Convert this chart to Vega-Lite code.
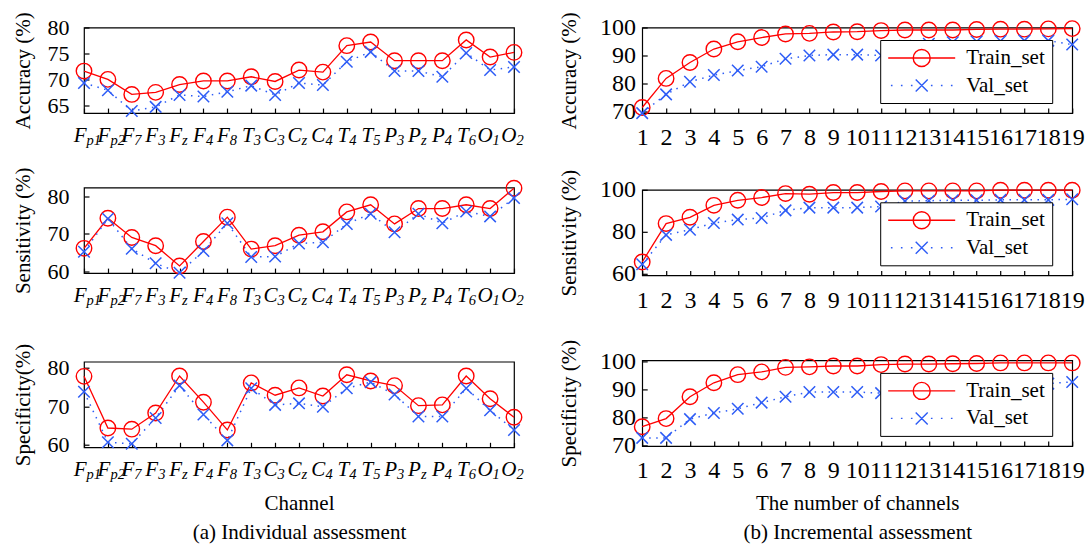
{
  "$schema": "https://vega.github.io/schema/vega-lite/v6.json",
  "padding": {"left": 11, "top": 10.5, "right": 1, "bottom": 1},
  "config": {
    "font": "Liberation Serif",
    "view": {"stroke": "#000", "strokeWidth": 1.2},
    "axis": {"labelFont": "Liberation Serif", "titleFont": "Liberation Serif", "labelFontSize": 21, "titleFontSize": 21, "titleFontWeight": "normal", "labelColor": "#000", "titleColor": "#000", "tickColor": "#000", "tickWidth": 1.2, "tickSize": -5, "grid": false, "domain": false, "labelAngle": 0, "labelOverlap": false},
    "legend": {"labelFont": "Liberation Serif", "labelFontSize": 21, "labelColor": "#000"}
  },
  "datasets": {
    "ind": [
      {"m":"acc","c":"Fp1","s":"Train_set","v":71.6},{"m":"acc","c":"Fp1","s":"Val_set","v":69.3},
      {"m":"acc","c":"Fp2","s":"Train_set","v":70.0},{"m":"acc","c":"Fp2","s":"Val_set","v":67.9},
      {"m":"acc","c":"F7","s":"Train_set","v":67.1},{"m":"acc","c":"F7","s":"Val_set","v":63.9},
      {"m":"acc","c":"F3","s":"Train_set","v":67.5},{"m":"acc","c":"F3","s":"Val_set","v":64.7},
      {"m":"acc","c":"Fz","s":"Train_set","v":69.0},{"m":"acc","c":"Fz","s":"Val_set","v":67.0},
      {"m":"acc","c":"F4","s":"Train_set","v":69.7},{"m":"acc","c":"F4","s":"Val_set","v":66.7},
      {"m":"acc","c":"F8","s":"Train_set","v":69.7},{"m":"acc","c":"F8","s":"Val_set","v":67.6},
      {"m":"acc","c":"T3","s":"Train_set","v":70.5},{"m":"acc","c":"T3","s":"Val_set","v":68.8},
      {"m":"acc","c":"C3","s":"Train_set","v":69.6},{"m":"acc","c":"C3","s":"Val_set","v":67.0},
      {"m":"acc","c":"Cz","s":"Train_set","v":71.8},{"m":"acc","c":"Cz","s":"Val_set","v":69.3},
      {"m":"acc","c":"C4","s":"Train_set","v":71.4},{"m":"acc","c":"C4","s":"Val_set","v":68.9},
      {"m":"acc","c":"T4","s":"Train_set","v":76.5},{"m":"acc","c":"T4","s":"Val_set","v":73.4},
      {"m":"acc","c":"T5","s":"Train_set","v":77.2},{"m":"acc","c":"T5","s":"Val_set","v":75.3},
      {"m":"acc","c":"P3","s":"Train_set","v":73.6},{"m":"acc","c":"P3","s":"Val_set","v":71.6},
      {"m":"acc","c":"Pz","s":"Train_set","v":73.6},{"m":"acc","c":"Pz","s":"Val_set","v":71.6},
      {"m":"acc","c":"P4","s":"Train_set","v":73.6},{"m":"acc","c":"P4","s":"Val_set","v":70.5},
      {"m":"acc","c":"T6","s":"Train_set","v":77.6},{"m":"acc","c":"T6","s":"Val_set","v":75.1},
      {"m":"acc","c":"O1","s":"Train_set","v":74.3},{"m":"acc","c":"O1","s":"Val_set","v":71.8},
      {"m":"acc","c":"O2","s":"Train_set","v":75.2},{"m":"acc","c":"O2","s":"Val_set","v":72.4},
      {"m":"sen","c":"Fp1","s":"Train_set","v":66.1},{"m":"sen","c":"Fp1","s":"Val_set","v":65.2},
      {"m":"sen","c":"Fp2","s":"Train_set","v":74.1},{"m":"sen","c":"Fp2","s":"Val_set","v":74.0},
      {"m":"sen","c":"F7","s":"Train_set","v":69.0},{"m":"sen","c":"F7","s":"Val_set","v":66.0},
      {"m":"sen","c":"F3","s":"Train_set","v":66.8},{"m":"sen","c":"F3","s":"Val_set","v":62.1},
      {"m":"sen","c":"Fz","s":"Train_set","v":61.4},{"m":"sen","c":"Fz","s":"Val_set","v":59.6},
      {"m":"sen","c":"F4","s":"Train_set","v":67.9},{"m":"sen","c":"F4","s":"Val_set","v":65.4},
      {"m":"sen","c":"F8","s":"Train_set","v":74.4},{"m":"sen","c":"F8","s":"Val_set","v":72.8},
      {"m":"sen","c":"T3","s":"Train_set","v":65.9},{"m":"sen","c":"T3","s":"Val_set","v":63.8},
      {"m":"sen","c":"C3","s":"Train_set","v":66.8},{"m":"sen","c":"C3","s":"Val_set","v":63.9},
      {"m":"sen","c":"Cz","s":"Train_set","v":69.6},{"m":"sen","c":"Cz","s":"Val_set","v":67.4},
      {"m":"sen","c":"C4","s":"Train_set","v":70.5},{"m":"sen","c":"C4","s":"Val_set","v":67.7},
      {"m":"sen","c":"T4","s":"Train_set","v":75.8},{"m":"sen","c":"T4","s":"Val_set","v":72.6},
      {"m":"sen","c":"T5","s":"Train_set","v":77.7},{"m":"sen","c":"T5","s":"Val_set","v":75.3},
      {"m":"sen","c":"P3","s":"Train_set","v":72.6},{"m":"sen","c":"P3","s":"Val_set","v":70.4},
      {"m":"sen","c":"Pz","s":"Train_set","v":76.7},{"m":"sen","c":"Pz","s":"Val_set","v":75.3},
      {"m":"sen","c":"P4","s":"Train_set","v":76.7},{"m":"sen","c":"P4","s":"Val_set","v":72.8},
      {"m":"sen","c":"T6","s":"Train_set","v":77.7},{"m":"sen","c":"T6","s":"Val_set","v":75.9},
      {"m":"sen","c":"O1","s":"Train_set","v":76.7},{"m":"sen","c":"O1","s":"Val_set","v":74.6},
      {"m":"sen","c":"O2","s":"Train_set","v":82.1},{"m":"sen","c":"O2","s":"Val_set","v":79.5},
      {"m":"spe","c":"Fp1","s":"Train_set","v":77.8},{"m":"spe","c":"Fp1","s":"Val_set","v":73.8},
      {"m":"spe","c":"Fp2","s":"Train_set","v":64.4},{"m":"spe","c":"Fp2","s":"Val_set","v":60.7},
      {"m":"spe","c":"F7","s":"Train_set","v":64.1},{"m":"spe","c":"F7","s":"Val_set","v":60.3},
      {"m":"spe","c":"F3","s":"Train_set","v":68.3},{"m":"spe","c":"F3","s":"Val_set","v":67.0},
      {"m":"spe","c":"Fz","s":"Train_set","v":77.9},{"m":"spe","c":"Fz","s":"Val_set","v":75.4},
      {"m":"spe","c":"F4","s":"Train_set","v":71.1},{"m":"spe","c":"F4","s":"Val_set","v":67.9},
      {"m":"spe","c":"F8","s":"Train_set","v":63.9},{"m":"spe","c":"F8","s":"Val_set","v":61.2},
      {"m":"spe","c":"T3","s":"Train_set","v":76.1},{"m":"spe","c":"T3","s":"Val_set","v":74.7},
      {"m":"spe","c":"C3","s":"Train_set","v":72.9},{"m":"spe","c":"C3","s":"Val_set","v":70.4},
      {"m":"spe","c":"Cz","s":"Train_set","v":74.8},{"m":"spe","c":"Cz","s":"Val_set","v":70.8},
      {"m":"spe","c":"C4","s":"Train_set","v":72.7},{"m":"spe","c":"C4","s":"Val_set","v":69.9},
      {"m":"spe","c":"T4","s":"Train_set","v":78.2},{"m":"spe","c":"T4","s":"Val_set","v":74.7},
      {"m":"spe","c":"T5","s":"Train_set","v":76.6},{"m":"spe","c":"T5","s":"Val_set","v":76.3},
      {"m":"spe","c":"P3","s":"Train_set","v":75.4},{"m":"spe","c":"P3","s":"Val_set","v":73.1},
      {"m":"spe","c":"Pz","s":"Train_set","v":70.2},{"m":"spe","c":"Pz","s":"Val_set","v":67.4},
      {"m":"spe","c":"P4","s":"Train_set","v":70.4},{"m":"spe","c":"P4","s":"Val_set","v":67.4},
      {"m":"spe","c":"T6","s":"Train_set","v":77.9},{"m":"spe","c":"T6","s":"Val_set","v":74.7},
      {"m":"spe","c":"O1","s":"Train_set","v":72.0},{"m":"spe","c":"O1","s":"Val_set","v":69.0},
      {"m":"spe","c":"O2","s":"Train_set","v":67.2},{"m":"spe","c":"O2","s":"Val_set","v":63.9}
    ],
    "inc": [
      {"m":"acc","n":1,"s":"Train_set","v":71.4},{"m":"acc","n":1,"s":"Val_set","v":69.4},
      {"m":"acc","n":2,"s":"Train_set","v":81.8},{"m":"acc","n":2,"s":"Val_set","v":76.1},
      {"m":"acc","n":3,"s":"Train_set","v":87.5},{"m":"acc","n":3,"s":"Val_set","v":80.6},
      {"m":"acc","n":4,"s":"Train_set","v":92.3},{"m":"acc","n":4,"s":"Val_set","v":83.0},
      {"m":"acc","n":5,"s":"Train_set","v":94.9},{"m":"acc","n":5,"s":"Val_set","v":84.6},
      {"m":"acc","n":6,"s":"Train_set","v":96.4},{"m":"acc","n":6,"s":"Val_set","v":86.0},
      {"m":"acc","n":7,"s":"Train_set","v":97.7},{"m":"acc","n":7,"s":"Val_set","v":88.8},
      {"m":"acc","n":8,"s":"Train_set","v":97.9},{"m":"acc","n":8,"s":"Val_set","v":90.0},
      {"m":"acc","n":9,"s":"Train_set","v":98.4},{"m":"acc","n":9,"s":"Val_set","v":90.3},
      {"m":"acc","n":10,"s":"Train_set","v":98.5},{"m":"acc","n":10,"s":"Val_set","v":90.3},
      {"m":"acc","n":11,"s":"Train_set","v":98.9},{"m":"acc","n":11,"s":"Val_set","v":90.0},
      {"m":"acc","n":12,"s":"Train_set","v":99.1},{"m":"acc","n":12,"s":"Val_set","v":93.5},
      {"m":"acc","n":13,"s":"Train_set","v":99.1},{"m":"acc","n":13,"s":"Val_set","v":94.2},
      {"m":"acc","n":14,"s":"Train_set","v":99.1},{"m":"acc","n":14,"s":"Val_set","v":94.7},
      {"m":"acc","n":15,"s":"Train_set","v":99.3},{"m":"acc","n":15,"s":"Val_set","v":95.0},
      {"m":"acc","n":16,"s":"Train_set","v":99.4},{"m":"acc","n":16,"s":"Val_set","v":95.2},
      {"m":"acc","n":17,"s":"Train_set","v":99.4},{"m":"acc","n":17,"s":"Val_set","v":95.3},
      {"m":"acc","n":18,"s":"Train_set","v":99.5},{"m":"acc","n":18,"s":"Val_set","v":95.3},
      {"m":"acc","n":19,"s":"Train_set","v":99.6},{"m":"acc","n":19,"s":"Val_set","v":93.9},
      {"m":"sen","n":1,"s":"Train_set","v":65.6},{"m":"sen","n":1,"s":"Val_set","v":64.5},
      {"m":"sen","n":2,"s":"Train_set","v":83.9},{"m":"sen","n":2,"s":"Val_set","v":78.5},
      {"m":"sen","n":3,"s":"Train_set","v":86.9},{"m":"sen","n":3,"s":"Val_set","v":81.0},
      {"m":"sen","n":4,"s":"Train_set","v":92.6},{"m":"sen","n":4,"s":"Val_set","v":84.2},
      {"m":"sen","n":5,"s":"Train_set","v":95.0},{"m":"sen","n":5,"s":"Val_set","v":85.8},
      {"m":"sen","n":6,"s":"Train_set","v":96.3},{"m":"sen","n":6,"s":"Val_set","v":86.6},
      {"m":"sen","n":7,"s":"Train_set","v":98.2},{"m":"sen","n":7,"s":"Val_set","v":90.2},
      {"m":"sen","n":8,"s":"Train_set","v":97.9},{"m":"sen","n":8,"s":"Val_set","v":91.5},
      {"m":"sen","n":9,"s":"Train_set","v":98.7},{"m":"sen","n":9,"s":"Val_set","v":91.5},
      {"m":"sen","n":10,"s":"Train_set","v":98.7},{"m":"sen","n":10,"s":"Val_set","v":91.5},
      {"m":"sen","n":11,"s":"Train_set","v":99.2},{"m":"sen","n":11,"s":"Val_set","v":92.0},
      {"m":"sen","n":12,"s":"Train_set","v":99.5},{"m":"sen","n":12,"s":"Val_set","v":94.6},
      {"m":"sen","n":13,"s":"Train_set","v":99.5},{"m":"sen","n":13,"s":"Val_set","v":94.8},
      {"m":"sen","n":14,"s":"Train_set","v":99.5},{"m":"sen","n":14,"s":"Val_set","v":95.0},
      {"m":"sen","n":15,"s":"Train_set","v":99.5},{"m":"sen","n":15,"s":"Val_set","v":95.0},
      {"m":"sen","n":16,"s":"Train_set","v":99.8},{"m":"sen","n":16,"s":"Val_set","v":95.2},
      {"m":"sen","n":17,"s":"Train_set","v":99.8},{"m":"sen","n":17,"s":"Val_set","v":95.2},
      {"m":"sen","n":18,"s":"Train_set","v":99.8},{"m":"sen","n":18,"s":"Val_set","v":95.2},
      {"m":"sen","n":19,"s":"Train_set","v":99.8},{"m":"sen","n":19,"s":"Val_set","v":95.5},
      {"m":"spe","n":1,"s":"Train_set","v":76.6},{"m":"spe","n":1,"s":"Val_set","v":72.6},
      {"m":"spe","n":2,"s":"Train_set","v":79.5},{"m":"spe","n":2,"s":"Val_set","v":72.6},
      {"m":"spe","n":3,"s":"Train_set","v":87.3},{"m":"spe","n":3,"s":"Val_set","v":79.3},
      {"m":"spe","n":4,"s":"Train_set","v":92.3},{"m":"spe","n":4,"s":"Val_set","v":81.5},
      {"m":"spe","n":5,"s":"Train_set","v":95.2},{"m":"spe","n":5,"s":"Val_set","v":83.0},
      {"m":"spe","n":6,"s":"Train_set","v":96.2},{"m":"spe","n":6,"s":"Val_set","v":85.2},
      {"m":"spe","n":7,"s":"Train_set","v":97.8},{"m":"spe","n":7,"s":"Val_set","v":87.3},
      {"m":"spe","n":8,"s":"Train_set","v":98.0},{"m":"spe","n":8,"s":"Val_set","v":89.0},
      {"m":"spe","n":9,"s":"Train_set","v":98.3},{"m":"spe","n":9,"s":"Val_set","v":89.0},
      {"m":"spe","n":10,"s":"Train_set","v":98.3},{"m":"spe","n":10,"s":"Val_set","v":89.0},
      {"m":"spe","n":11,"s":"Train_set","v":98.8},{"m":"spe","n":11,"s":"Val_set","v":88.6},
      {"m":"spe","n":12,"s":"Train_set","v":99.0},{"m":"spe","n":12,"s":"Val_set","v":89.5},
      {"m":"spe","n":13,"s":"Train_set","v":99.0},{"m":"spe","n":13,"s":"Val_set","v":90.0},
      {"m":"spe","n":14,"s":"Train_set","v":99.1},{"m":"spe","n":14,"s":"Val_set","v":90.5},
      {"m":"spe","n":15,"s":"Train_set","v":99.2},{"m":"spe","n":15,"s":"Val_set","v":91.0},
      {"m":"spe","n":16,"s":"Train_set","v":99.4},{"m":"spe","n":16,"s":"Val_set","v":91.5},
      {"m":"spe","n":17,"s":"Train_set","v":99.4},{"m":"spe","n":17,"s":"Val_set","v":91.8},
      {"m":"spe","n":18,"s":"Train_set","v":99.4},{"m":"spe","n":18,"s":"Val_set","v":92.0},
      {"m":"spe","n":19,"s":"Train_set","v":99.4},{"m":"spe","n":19,"s":"Val_set","v":92.6}
    ]
  },
  "spacing": 31.2,
  "resolve": {"scale": {"color": "independent", "shape": "independent"}, "legend": {"color": "independent", "shape": "independent"}},
  "hconcat": [
    {
      "spacing": 33.2,
      "resolve": {"scale": {"color": "independent", "shape": "independent"}, "legend": {"color": "independent", "shape": "independent"}},
      "vconcat": [
        {
          "spacing": 17,
          "resolve": {"scale": {"color": "independent", "shape": "independent"}, "legend": {"color": "independent", "shape": "independent"}},
          "vconcat": [
            {
              "width": 430, "height": 85.6,
              "data": {"name": "ind"},
              "transform": [{"filter": "datum.m === 'acc'"}],
              "encoding": {
                "y": {"field": "v", "type": "quantitative", "scale": {"domain": [63.5, 80], "nice": false, "zero": false}, "axis": {"values": [65, 70, 75, 80], "labelFontSize": 22, "labelPadding": 20, "titlePadding": 14, "title": "Accuracy (%)"}}
              },
              "layer": [
                {
                  "encoding": {"x": {"field": "c", "type": "nominal", "sort": ["Fp1","Fp2","F7","F3","Fz","F4","F8","T3","C3","Cz","C4","T4","T5","P3","Pz","P4","T6","O1","O2"], "scale": {"type": "point", "padding": 0}, "axis": {"orient": "bottom", "labelExpr": "substring(datum.label,0,1)", "labelAlign": "right", "labelOffset": 2, "labelFontStyle": "italic", "labelBaseline": "top", "labelPadding": 16.4, "title": null}}},
                  "layer": [
                    {"transform": [{"filter": "datum.s === 'Train_set'"}], "mark": {"type": "line", "color": "#ff0000", "strokeWidth": 1.3}},
                    {"transform": [{"filter": "datum.s === 'Val_set'"}], "mark": {"type": "line", "color": "#2d5cf6", "strokeWidth": 1.5, "strokeDash": [1.5, 5.5]}},
                    {"transform": [{"filter": "datum.s === 'Train_set'"}], "mark": {"type": "point", "shape": "circle", "size": 240, "filled": false, "color": "#ff0000", "strokeWidth": 1.4, "opacity": 1}}
                  ]
                },
                {
                  "transform": [{"filter": "datum.s === 'Val_set'"}],
                  "mark": {"type": "point", "shape": "M-1,-1L1,1M1,-1L-1,1", "size": 132, "filled": false, "color": "#2d5cf6", "strokeWidth": 1.5, "opacity": 1},
                  "encoding": {"x": {"field": "c", "type": "nominal", "sort": ["Fp1","Fp2","F7","F3","Fz","F4","F8","T3","C3","Cz","C4","T4","T5","P3","Pz","P4","T6","O1","O2"], "scale": {"type": "point", "padding": 0}, "axis": {"orient": "bottom", "labelExpr": "substring(datum.label,1)", "labelAlign": "left", "labelOffset": 2, "labelFontStyle": "italic", "labelFontSize": 14.5, "labelBaseline": "top", "labelPadding": 20.5, "ticks": false, "tickSize": 0, "title": null}}}
                }
              ],
              "resolve": {"axis": {"x": "independent"}}
            },
            {
              "width": 430, "height": 85.6,
              "data": {"name": "ind"},
              "transform": [{"filter": "datum.m === 'sen'"}],
              "encoding": {
                "y": {"field": "v", "type": "quantitative", "scale": {"domain": [59.5, 82.3], "nice": false, "zero": false}, "axis": {"values": [60, 70, 80], "labelFontSize": 22, "labelPadding": 20, "titlePadding": 14, "title": "Sensitivity (%)"}}
              },
              "layer": [
                {
                  "encoding": {"x": {"field": "c", "type": "nominal", "sort": ["Fp1","Fp2","F7","F3","Fz","F4","F8","T3","C3","Cz","C4","T4","T5","P3","Pz","P4","T6","O1","O2"], "scale": {"type": "point", "padding": 0}, "axis": {"orient": "bottom", "labelExpr": "substring(datum.label,0,1)", "labelAlign": "right", "labelOffset": 2, "labelFontStyle": "italic", "labelBaseline": "top", "labelPadding": 16.4, "title": null}}},
                  "layer": [
                    {"transform": [{"filter": "datum.s === 'Train_set'"}], "mark": {"type": "line", "color": "#ff0000", "strokeWidth": 1.3}},
                    {"transform": [{"filter": "datum.s === 'Val_set'"}], "mark": {"type": "line", "color": "#2d5cf6", "strokeWidth": 1.5, "strokeDash": [1.5, 5.5]}},
                    {"transform": [{"filter": "datum.s === 'Train_set'"}], "mark": {"type": "point", "shape": "circle", "size": 240, "filled": false, "color": "#ff0000", "strokeWidth": 1.4, "opacity": 1}}
                  ]
                },
                {
                  "transform": [{"filter": "datum.s === 'Val_set'"}],
                  "mark": {"type": "point", "shape": "M-1,-1L1,1M1,-1L-1,1", "size": 132, "filled": false, "color": "#2d5cf6", "strokeWidth": 1.5, "opacity": 1},
                  "encoding": {"x": {"field": "c", "type": "nominal", "sort": ["Fp1","Fp2","F7","F3","Fz","F4","F8","T3","C3","Cz","C4","T4","T5","P3","Pz","P4","T6","O1","O2"], "scale": {"type": "point", "padding": 0}, "axis": {"orient": "bottom", "labelExpr": "substring(datum.label,1)", "labelAlign": "left", "labelOffset": 2, "labelFontStyle": "italic", "labelFontSize": 14.5, "labelBaseline": "top", "labelPadding": 20.5, "ticks": false, "tickSize": 0, "title": null}}}
                }
              ],
              "resolve": {"axis": {"x": "independent"}}
            }
          ]
        },
        {
          "width": 430, "height": 85.6,
          "data": {"name": "ind"},
          "transform": [{"filter": "datum.m === 'spe'"}],
          "encoding": {
            "y": {"field": "v", "type": "quantitative", "scale": {"domain": [59.4, 81.6], "nice": false, "zero": false}, "axis": {"values": [60, 70, 80], "labelFontSize": 22, "labelPadding": 20, "titlePadding": 14, "title": "Specificity(%)"}}
          },
          "layer": [
            {
              "encoding": {"x": {"field": "c", "type": "nominal", "sort": ["Fp1","Fp2","F7","F3","Fz","F4","F8","T3","C3","Cz","C4","T4","T5","P3","Pz","P4","T6","O1","O2"], "scale": {"type": "point", "padding": 0}, "axis": {"orient": "bottom", "labelExpr": "substring(datum.label,0,1)", "labelAlign": "right", "labelOffset": 2, "labelFontStyle": "italic", "labelBaseline": "top", "labelPadding": 16.4, "title": ["Channel", "(a) Individual assessment"], "titlePadding": 13, "titleLineHeight": 29}}},
              "layer": [
                {"transform": [{"filter": "datum.s === 'Train_set'"}], "mark": {"type": "line", "color": "#ff0000", "strokeWidth": 1.3}},
                {"transform": [{"filter": "datum.s === 'Val_set'"}], "mark": {"type": "line", "color": "#2d5cf6", "strokeWidth": 1.5, "strokeDash": [1.5, 5.5]}},
                {"transform": [{"filter": "datum.s === 'Train_set'"}], "mark": {"type": "point", "shape": "circle", "size": 240, "filled": false, "color": "#ff0000", "strokeWidth": 1.4, "opacity": 1}}
              ]
            },
            {
              "transform": [{"filter": "datum.s === 'Val_set'"}],
              "mark": {"type": "point", "shape": "M-1,-1L1,1M1,-1L-1,1", "size": 132, "filled": false, "color": "#2d5cf6", "strokeWidth": 1.5, "opacity": 1},
              "encoding": {"x": {"field": "c", "type": "nominal", "sort": ["Fp1","Fp2","F7","F3","Fz","F4","F8","T3","C3","Cz","C4","T4","T5","P3","Pz","P4","T6","O1","O2"], "scale": {"type": "point", "padding": 0}, "axis": {"orient": "bottom", "labelExpr": "substring(datum.label,1)", "labelAlign": "left", "labelOffset": 2, "labelFontStyle": "italic", "labelFontSize": 14.5, "labelBaseline": "top", "labelPadding": 20.5, "ticks": false, "tickSize": 0, "title": null}}}
            }
          ],
          "resolve": {"axis": {"x": "independent"}}
        }
      ]
    },
    {
      "spacing": 24.9,
      "resolve": {"scale": {"color": "independent", "shape": "independent"}, "legend": {"color": "independent", "shape": "independent"}},
      "vconcat": [
        {
          "spacing": 17.3,
          "resolve": {"scale": {"color": "independent", "shape": "independent"}, "legend": {"color": "independent", "shape": "independent"}},
          "vconcat": [
            {
              "width": 430, "height": 85.6,
              "data": {"name": "inc"},
              "transform": [{"filter": "datum.m === 'acc'"}],
              "encoding": {
                "x": {"field": "n", "type": "ordinal", "scale": {"type": "point", "padding": 0}, "axis": {"labelFontSize": 24, "labelBaseline": "top", "labelPadding": 17.6, "title": null}},
                "y": {"field": "v", "type": "quantitative", "scale": {"domain": [69.4, 100], "nice": false, "zero": false}, "axis": {"values": [70, 80, 90, 100], "labelFontSize": 24, "labelPadding": 11.7, "titlePadding": 20, "title": "Accuracy (%)"}}
              },
              "layer": [
                {"transform": [{"filter": "datum.s === 'Train_set'"}], "mark": {"type": "line", "color": "#ff0000", "strokeWidth": 1.3}},
                {"transform": [{"filter": "datum.s === 'Val_set'"}], "mark": {"type": "line", "color": "#2d5cf6", "strokeWidth": 1.5, "strokeDash": [1.5, 5.5]}},
                {"transform": [{"filter": "datum.s === 'Train_set'"}], "mark": {"type": "point", "shape": "circle", "size": 240, "filled": false, "color": "#ff0000", "strokeWidth": 1.4, "opacity": 1}},
                {"transform": [{"filter": "datum.s === 'Val_set'"}], "mark": {"type": "point", "shape": "M-1,-1L1,1M1,-1L-1,1", "size": 132, "filled": false, "color": "#2d5cf6", "strokeWidth": 1.5, "opacity": 1}},
                {
                  "transform": [{"filter": "false"}],
                  "mark": {"type": "point", "filled": false, "strokeWidth": 1.4, "opacity": 1},
                  "encoding": {
                    "shape": {"field": "s", "type": "nominal", "scale": {"domain": ["Train_set", "Val_set"], "range": ["M-1,0L5.7,0M1.5,0A0.85,0.85,0,1,0,3.2,0A0.85,0.85,0,1,0,1.5,0", "M-1,0M-0.73,0L-0.57,0M0.27,0L0.43,0M1.27,0L1.43,0M3.27,0L3.43,0M4.27,0L4.43,0M5.27,0L5.43,0M1.75,-0.6L2.95,0.6M2.95,-0.6L1.75,0.6M5.7,0"]}, "legend": {"orient": "none", "legendX": 238, "legendY": 12.5, "title": null, "fillColor": "#fff", "strokeColor": "#000", "padding": 7, "rowPadding": 4.5, "symbolSize": 400, "symbolStrokeWidth": 1.4, "labelOffset": 57, "labelLimit": 300}},
                    "color": {"field": "s", "type": "nominal", "scale": {"domain": ["Train_set", "Val_set"], "range": ["#ff0000", "#2d5cf6"]}, "legend": {"orient": "none", "legendX": 238, "legendY": 12.5, "title": null, "fillColor": "#fff", "strokeColor": "#000", "padding": 7, "rowPadding": 4.5, "symbolSize": 400, "symbolStrokeWidth": 1.4, "labelOffset": 57, "labelLimit": 300}}
                  }
                }
              ]
            },
            {
              "width": 430, "height": 85.6,
              "data": {"name": "inc"},
              "transform": [{"filter": "datum.m === 'sen'"}],
              "encoding": {
                "x": {"field": "n", "type": "ordinal", "scale": {"type": "point", "padding": 0}, "axis": {"labelFontSize": 24, "labelBaseline": "top", "labelPadding": 17.6, "title": null}},
                "y": {"field": "v", "type": "quantitative", "scale": {"domain": [59.2, 100], "nice": false, "zero": false}, "axis": {"values": [60, 80, 100], "labelFontSize": 24, "labelPadding": 11.7, "titlePadding": 20, "title": "Sensitivity (%)"}}
              },
              "layer": [
                {"transform": [{"filter": "datum.s === 'Train_set'"}], "mark": {"type": "line", "color": "#ff0000", "strokeWidth": 1.3}},
                {"transform": [{"filter": "datum.s === 'Val_set'"}], "mark": {"type": "line", "color": "#2d5cf6", "strokeWidth": 1.5, "strokeDash": [1.5, 5.5]}},
                {"transform": [{"filter": "datum.s === 'Train_set'"}], "mark": {"type": "point", "shape": "circle", "size": 240, "filled": false, "color": "#ff0000", "strokeWidth": 1.4, "opacity": 1}},
                {"transform": [{"filter": "datum.s === 'Val_set'"}], "mark": {"type": "point", "shape": "M-1,-1L1,1M1,-1L-1,1", "size": 132, "filled": false, "color": "#2d5cf6", "strokeWidth": 1.5, "opacity": 1}},
                {
                  "transform": [{"filter": "false"}],
                  "mark": {"type": "point", "filled": false, "strokeWidth": 1.4, "opacity": 1},
                  "encoding": {
                    "shape": {"field": "s", "type": "nominal", "scale": {"domain": ["Train_set", "Val_set"], "range": ["M-1,0L5.7,0M1.5,0A0.85,0.85,0,1,0,3.2,0A0.85,0.85,0,1,0,1.5,0", "M-1,0M-0.73,0L-0.57,0M0.27,0L0.43,0M1.27,0L1.43,0M3.27,0L3.43,0M4.27,0L4.43,0M5.27,0L5.43,0M1.75,-0.6L2.95,0.6M2.95,-0.6L1.75,0.6M5.7,0"]}, "legend": {"orient": "none", "legendX": 238, "legendY": 12.5, "title": null, "fillColor": "#fff", "strokeColor": "#000", "padding": 7, "rowPadding": 4.5, "symbolSize": 400, "symbolStrokeWidth": 1.4, "labelOffset": 57, "labelLimit": 300}},
                    "color": {"field": "s", "type": "nominal", "scale": {"domain": ["Train_set", "Val_set"], "range": ["#ff0000", "#2d5cf6"]}, "legend": {"orient": "none", "legendX": 238, "legendY": 12.5, "title": null, "fillColor": "#fff", "strokeColor": "#000", "padding": 7, "rowPadding": 4.5, "symbolSize": 400, "symbolStrokeWidth": 1.4, "labelOffset": 57, "labelLimit": 300}}
                  }
                }
              ]
            }
          ]
        },
        {
          "width": 430, "height": 85.6,
          "data": {"name": "inc"},
          "transform": [{"filter": "datum.m === 'spe'"}],
          "encoding": {
            "x": {"field": "n", "type": "ordinal", "scale": {"type": "point", "padding": 0}, "axis": {"labelFontSize": 24, "labelBaseline": "top", "labelPadding": 17.6, "title": ["The number of channels", "(b) Incremental assessment"], "titlePadding": 9.8, "titleLineHeight": 29}},
            "y": {"field": "v", "type": "quantitative", "scale": {"domain": [69.7, 100.3], "nice": false, "zero": false}, "axis": {"values": [70, 80, 90, 100], "labelFontSize": 24, "labelPadding": 11.7, "titlePadding": 20, "title": "Specificity (%)"}}
          },
          "layer": [
            {"transform": [{"filter": "datum.s === 'Train_set'"}], "mark": {"type": "line", "color": "#ff0000", "strokeWidth": 1.3}},
            {"transform": [{"filter": "datum.s === 'Val_set'"}], "mark": {"type": "line", "color": "#2d5cf6", "strokeWidth": 1.5, "strokeDash": [1.5, 5.5]}},
            {"transform": [{"filter": "datum.s === 'Train_set'"}], "mark": {"type": "point", "shape": "circle", "size": 240, "filled": false, "color": "#ff0000", "strokeWidth": 1.4, "opacity": 1}},
            {"transform": [{"filter": "datum.s === 'Val_set'"}], "mark": {"type": "point", "shape": "M-1,-1L1,1M1,-1L-1,1", "size": 132, "filled": false, "color": "#2d5cf6", "strokeWidth": 1.5, "opacity": 1}},
            {
              "transform": [{"filter": "false"}],
              "mark": {"type": "point", "filled": false, "strokeWidth": 1.4, "opacity": 1},
              "encoding": {
                "shape": {"field": "s", "type": "nominal", "scale": {"domain": ["Train_set", "Val_set"], "range": ["M-1,0L5.7,0M1.5,0A0.85,0.85,0,1,0,3.2,0A0.85,0.85,0,1,0,1.5,0", "M-1,0M-0.73,0L-0.57,0M0.27,0L0.43,0M1.27,0L1.43,0M3.27,0L3.43,0M4.27,0L4.43,0M5.27,0L5.43,0M1.75,-0.6L2.95,0.6M2.95,-0.6L1.75,0.6M5.7,0"]}, "legend": {"orient": "none", "legendX": 238, "legendY": 12.5, "title": null, "fillColor": "#fff", "strokeColor": "#000", "padding": 7, "rowPadding": 4.5, "symbolSize": 400, "symbolStrokeWidth": 1.4, "labelOffset": 57, "labelLimit": 300}},
                "color": {"field": "s", "type": "nominal", "scale": {"domain": ["Train_set", "Val_set"], "range": ["#ff0000", "#2d5cf6"]}, "legend": {"orient": "none", "legendX": 238, "legendY": 12.5, "title": null, "fillColor": "#fff", "strokeColor": "#000", "padding": 7, "rowPadding": 4.5, "symbolSize": 400, "symbolStrokeWidth": 1.4, "labelOffset": 57, "labelLimit": 300}}
              }
            }
          ]
        }
      ]
    }
  ]
}
